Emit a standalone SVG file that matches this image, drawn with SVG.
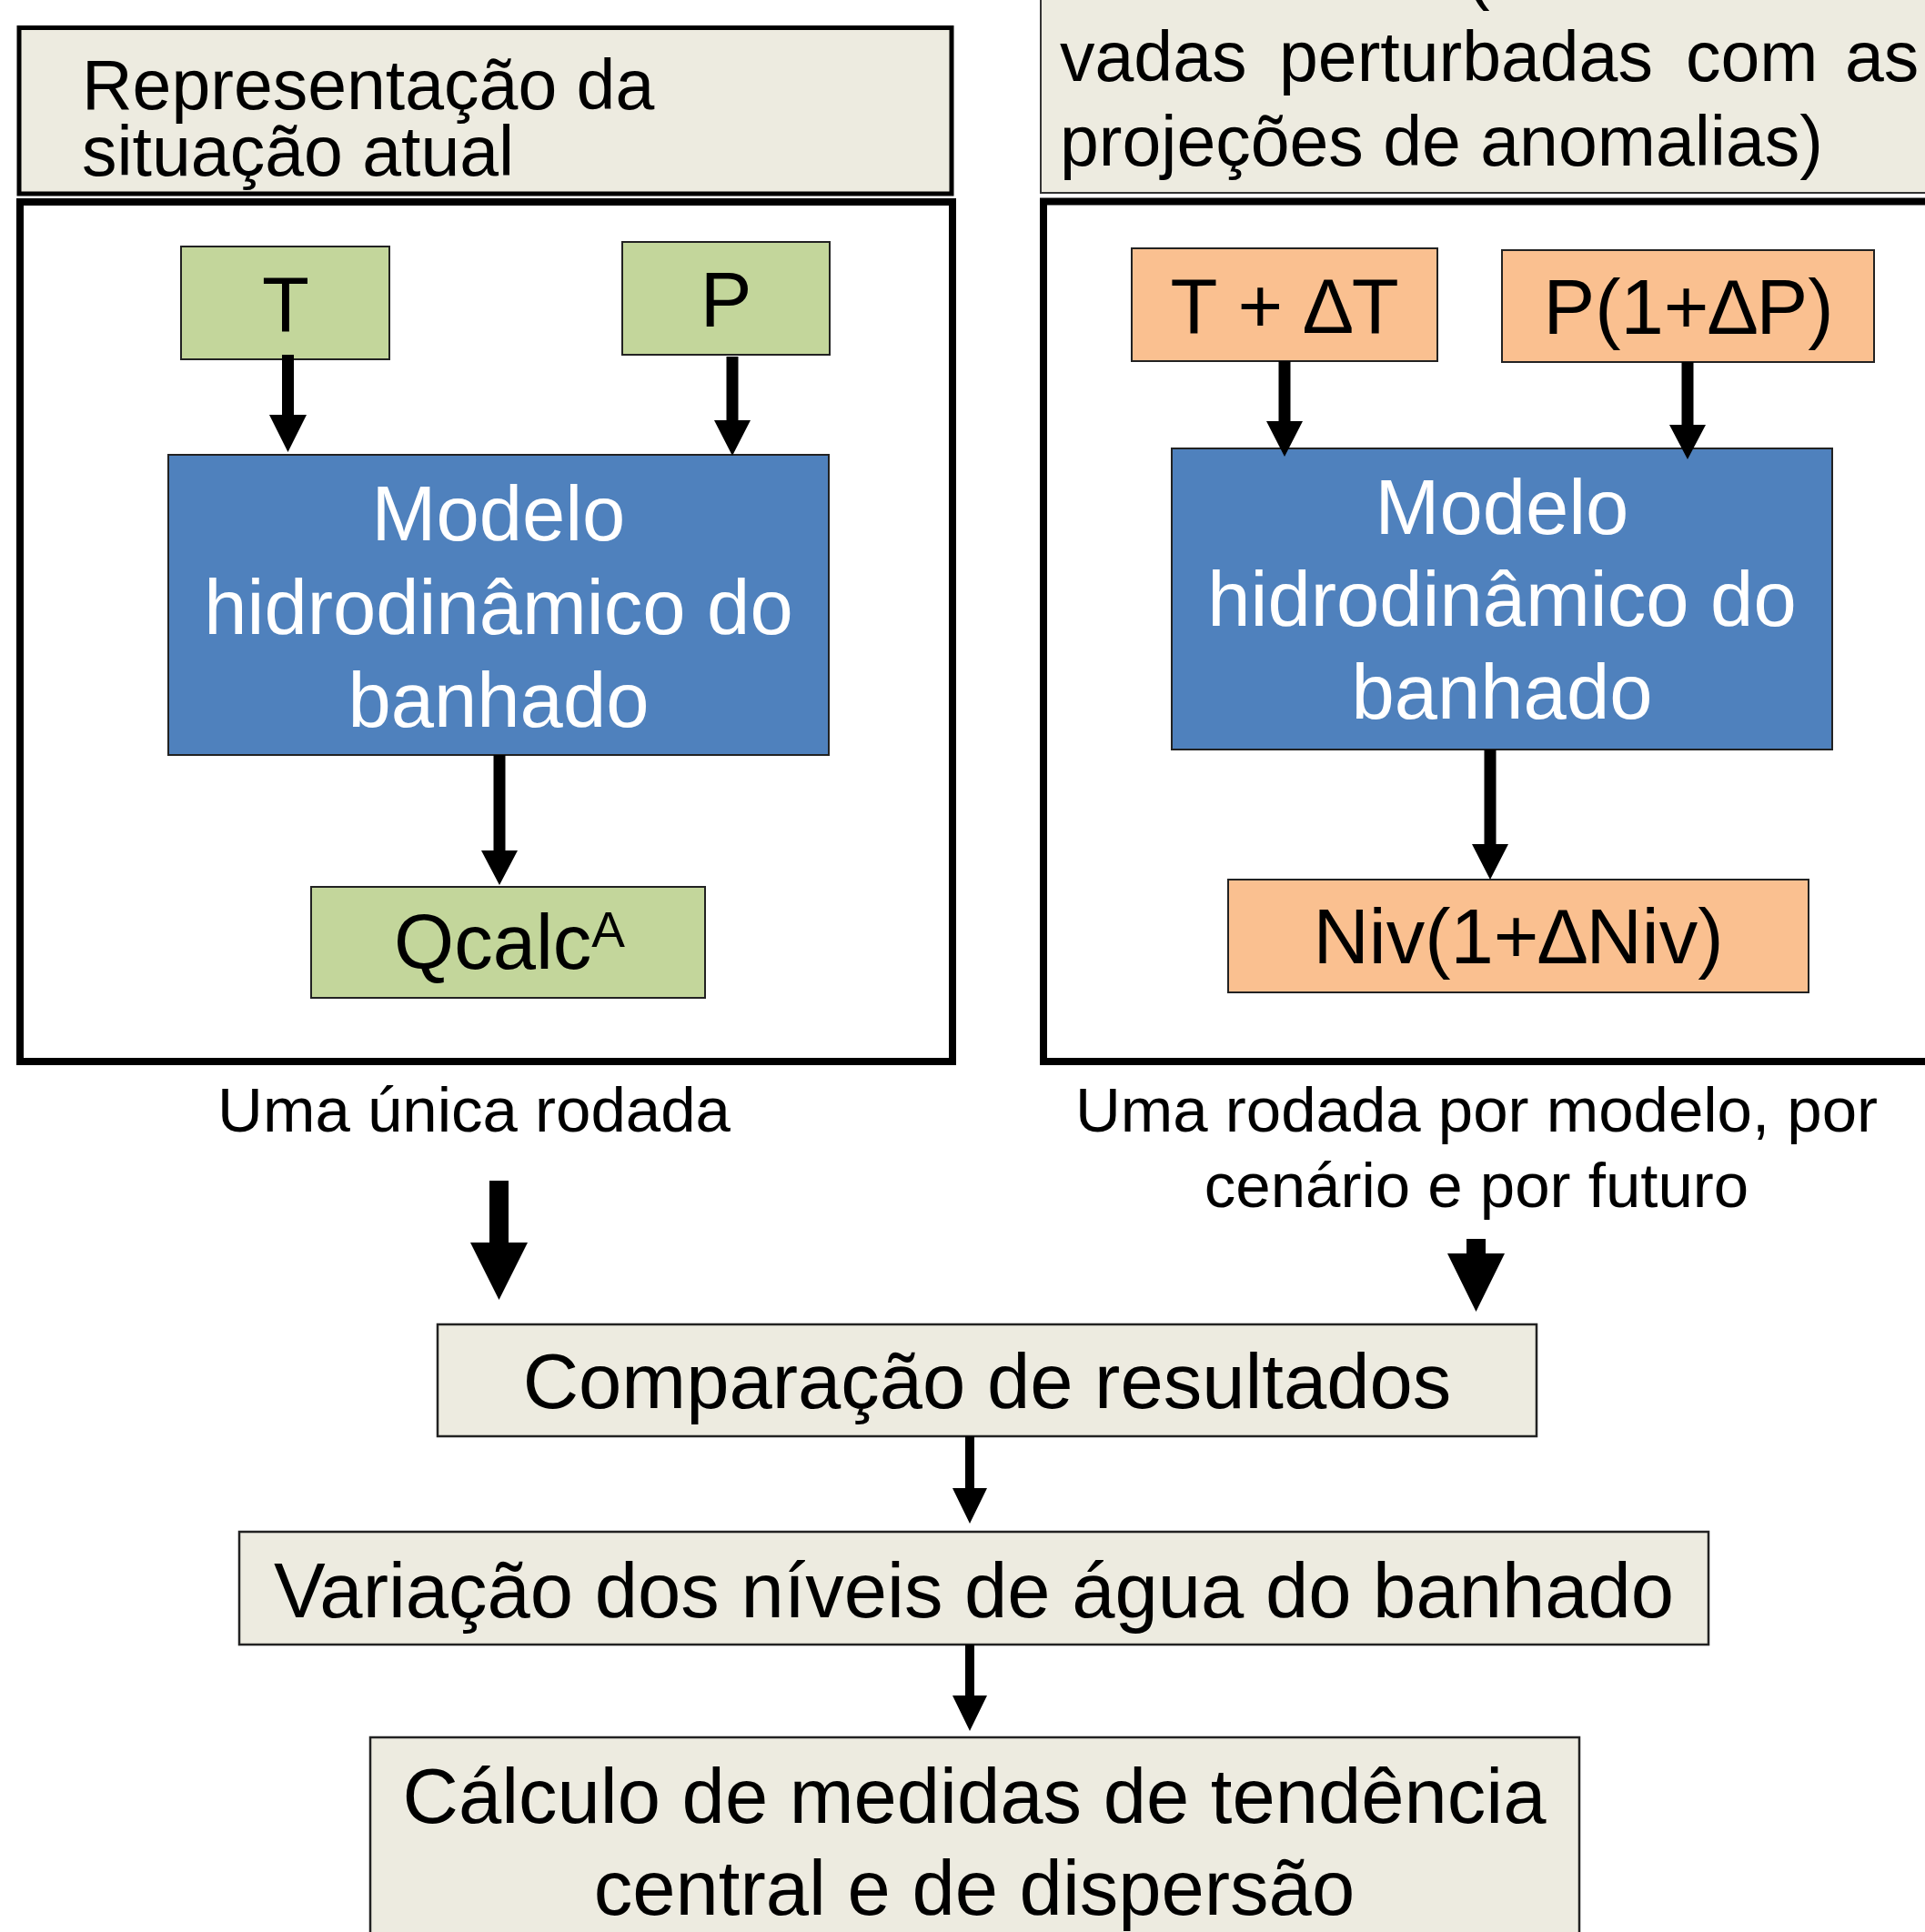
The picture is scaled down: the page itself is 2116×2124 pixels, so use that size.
<svg xmlns="http://www.w3.org/2000/svg" width="2116" height="2124" viewBox="0 0 2116 2124">
<style>
text{font-family:"Liberation Sans",Arial,sans-serif;fill:#000}
.hdr{fill:#EDEBE0}
.in{fill:#C3D69B;stroke:#222;stroke-width:2}
.or{fill:#FAC090;stroke:#222;stroke-width:2}
.bl{fill:#4F81BD;stroke:#222;stroke-width:2}
.frame{fill:none;stroke:#000;stroke-width:8}
.gr{fill:#EDEBE0;stroke:#222;stroke-width:2.5}
.arr{fill:#000}
.t77{font-size:77px}
.t85{font-size:85px}
.t69{font-size:69px}
.w{fill:#fff}
</style>
<rect width="2116" height="2124" fill="#fff"/>

<g id="header-left">
<rect x="21" y="30.5" width="1025" height="182.5" class="hdr" stroke="#000" stroke-width="5"/>
<text class="t77" x="90" y="120">Representação da</text>
<text class="t77" x="90" y="193">situação atual</text>
</g>

<g id="header-right">
<rect x="1144" y="-20" width="1000" height="232" class="hdr" stroke="#333" stroke-width="2"/>
<text class="t77" x="1612" y="-4">(</text>
<text class="t77" y="89"><tspan x="1165">vadas</tspan><tspan x="1406">perturbadas</tspan><tspan x="1853">com</tspan><tspan x="2028">as</tspan></text>
<text class="t77" x="1165" y="182">projeções de anomalias)</text>
</g>

<g id="frame-left"><rect x="22" y="222" width="1025" height="945" class="frame"/></g>
<g id="frame-right"><rect x="1147" y="221.5" width="1000" height="945.5" class="frame"/></g>

<g id="node-T">
<rect x="199" y="271" width="229" height="124" class="in"/>
<text class="t85" x="314" y="364" text-anchor="middle">T</text>
</g>
<g id="node-P">
<rect x="684" y="266" width="228" height="124" class="in"/>
<text class="t85" x="798" y="359" text-anchor="middle">P</text>
</g>
<g id="node-model-left">
<rect x="185" y="500" width="726" height="330" class="bl"/>
<text class="t85 w" x="548" y="594" text-anchor="middle">Modelo</text>
<text class="t85 w" x="548" y="697" text-anchor="middle">hidrodinâmico do</text>
<text class="t85 w" x="548" y="799" text-anchor="middle">banhado</text>
</g>
<g id="node-Qcalc">
<rect x="342" y="975" width="433" height="122" class="in"/>
<text class="t85" x="560" y="1065" text-anchor="middle">Qcalc<tspan font-size="55" dy="-24">A</tspan></text>
</g>

<g id="node-TdT">
<rect x="1244" y="273" width="336" height="124" class="or"/>
<text class="t85" x="1412" y="366" text-anchor="middle">T + ∆T</text>
</g>
<g id="node-PdP">
<rect x="1651" y="275" width="409" height="123" class="or"/>
<text class="t85" x="1856" y="367" text-anchor="middle">P(1+∆P)</text>
</g>
<g id="node-model-right">
<rect x="1288" y="493" width="726" height="331" class="bl"/>
<text class="t85 w" x="1651" y="587" text-anchor="middle">Modelo</text>
<text class="t85 w" x="1651" y="688" text-anchor="middle">hidrodinâmico do</text>
<text class="t85 w" x="1651" y="790" text-anchor="middle">banhado</text>
</g>
<g id="node-Niv">
<rect x="1350" y="967" width="638" height="124" class="or"/>
<text class="t85" x="1669" y="1059" text-anchor="middle">Niv(1+∆Niv)</text>
</g>

<g id="label-left">
<text class="t69" x="521" y="1244" text-anchor="middle">Uma única rodada</text>
</g>
<g id="label-right">
<text class="t69" x="1623" y="1244" text-anchor="middle">Uma rodada por modelo, por</text>
<text class="t69" x="1623" y="1327" text-anchor="middle">cenário e por futuro</text>
</g>

<g id="node-comparacao">
<rect x="481" y="1456" width="1208" height="123" class="gr"/>
<text class="t85" x="1085" y="1548" text-anchor="middle">Comparação de resultados</text>
</g>
<g id="node-variacao">
<rect x="263" y="1684" width="1615" height="124" class="gr"/>
<text class="t85" x="1070.5" y="1778" text-anchor="middle">Variação dos níveis de água do banhado</text>
</g>
<g id="node-calculo">
<rect x="407" y="1910" width="1329" height="300" class="gr" stroke-width="4" stroke="#000"/>
<text class="t85" x="1071" y="2004" text-anchor="middle">Cálculo de medidas de tendência</text>
<text class="t85" x="1071" y="2105" text-anchor="middle">central e de dispersão</text>
</g>

<g id="connectors" class="arr">
<polygon points="310,390 323,390 323,456 337,456 316.5,497 296,456 310,456"/>
<polygon points="798.5,392 811.5,392 811.5,462 825,462 805,501 785,462 798.5,462"/>
<polygon points="542.5,830 555.5,830 555.5,935 569,935 549,973 529,935 542.5,935"/>
<polygon points="1405.5,397 1418.5,397 1418.5,463 1432,463 1412,502 1392,463 1405.5,463"/>
<polygon points="1848.5,398 1861.5,398 1861.5,467 1875,467 1855,505 1835,467 1848.5,467"/>
<polygon points="1631.5,824 1644.5,824 1644.5,928 1658,928 1638,967 1618,928 1631.5,928"/>
<polygon points="538,1298 559,1298 559,1366 580,1366 548.5,1429 517,1366 538,1366"/>
<polygon points="1612,1362 1633,1362 1633,1378 1654,1378 1622.5,1442 1591,1378 1612,1378"/>
<polygon points="1061,1579 1071,1579 1071,1636 1085,1636 1066,1675 1047,1636 1061,1636"/>
<polygon points="1061,1808 1071,1808 1071,1864 1085,1864 1066,1903 1047,1864 1061,1864"/>
</g>
</svg>
